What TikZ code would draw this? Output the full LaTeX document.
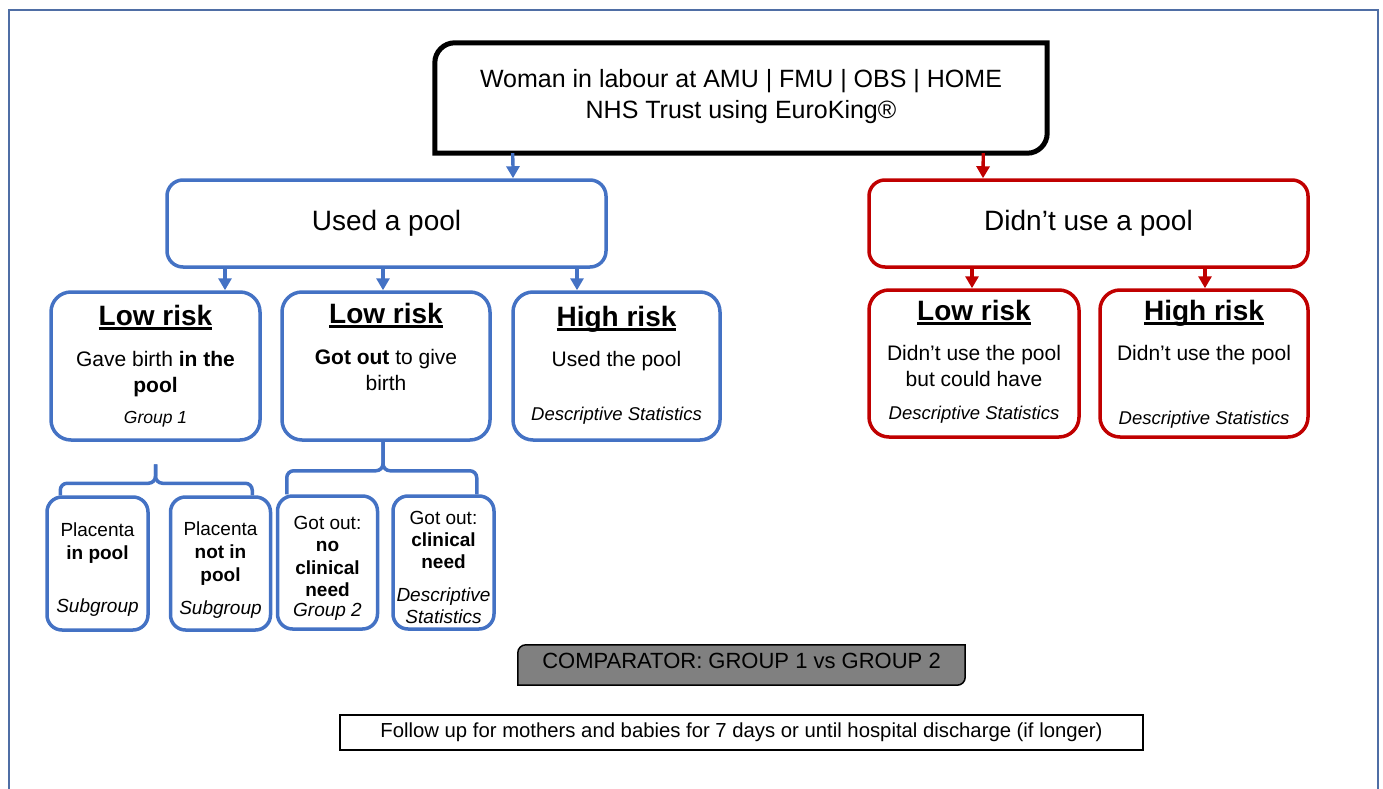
\documentclass[tikz,border=0pt]{standalone}
\usepackage{fontspec}
\setmainfont{Liberation Sans}
\usetikzlibrary{arrows.meta,backgrounds}

\definecolor{poolblue}{RGB}{68,114,196}
\definecolor{nopoolred}{RGB}{192,0,0}
\definecolor{framegrey}{RGB}{79,110,165}
\definecolor{compgrey}{RGB}{128,128,128}

% underlined bold heading of a risk box
\newcommand\risk[1]{{\fontsize{28}{30}\selectfont\bfseries\setbox0\hbox{#1}\rlap{\rule[-5pt]{\wd0}{3pt}}\box0}}

\begin{document}
\begin{tikzpicture}[x=1pt,y=1pt,
    box/.style={draw, rounded corners=20, line width=3.5pt, minimum width=208, minimum height=148,
      align=center, inner sep=2pt, font=\fontsize{21}{26}\selectfont},
    bluebox/.style={box, draw=poolblue},
    redbox/.style={box, draw=nopoolred},
    subbox/.style={draw=poolblue, rounded corners=15, line width=3.5pt, minimum width=100, minimum height=133,
      align=center, inner sep=2pt, font=\fontsize{19}{23}\selectfont},
    barrow/.style={poolblue, line width=3.3pt, -{Triangle[length=12pt,width=13pt]}},
    rarrow/.style={barrow, nopoolred},
    brk/.style={poolblue, line width=3.5pt, rounded corners=7}]
  \useasboundingbox (0,0) rectangle (1383,-789);
  \draw[framegrey, line width=1.5pt] (9,-10) rectangle (1378,-800);

  % top of the tree
  \node[align=center, minimum width=612, minimum height=110, inner sep=2pt, font=\fontsize{25}{31}\selectfont] (top) at (741,-98)
    {\rule{0pt}{20pt}Woman in labour at AMU | FMU | OBS | HOME\\NHS Trust using EuroKing®\rule[-9pt]{0pt}{0pt}};
  \draw[line width=5pt] ([yshift=-20]top.north west) arc[start angle=180, end angle=90, radius=20] -- (top.north east)
    -- ([yshift=20]top.south east) arc[start angle=0, end angle=-90, radius=20] -- (top.south west) -- cycle;

  \node[bluebox, rounded corners=16, minimum width=439, minimum height=87, font=\fontsize{28}{32}\selectfont] (used) at (386.5,-223.5) {Used a pool};
  \node[redbox, rounded corners=16, minimum width=439, minimum height=87, font=\fontsize{28}{32}\selectfont] (nopool) at (1088.5,-223.5) {Didn’t use a pool};

  % risk groups
  \node[bluebox, minimum width=209] (lowin) at (155.5,-366)
    {\rule{0pt}{22pt}\risk{Low risk}\\[15.5pt] Gave birth \textbf{in the}\\ \textbf{pool}\\[4.5pt]
     {\fontsize{17.5}{20}\selectfont\itshape Group 1}\rule[-6pt]{0pt}{0pt}};
  \node[bluebox] (lowout) at (386,-366)
    {\rule{0pt}{20.5pt}\risk{Low risk}\\[15.5pt] \textbf{Got out} to give\\ birth\rule[-39pt]{0pt}{0pt}};
  \node[bluebox, minimum width=207] (highin) at (616.5,-366)
    {\rule{0pt}{21pt}\risk{High risk}\\[14.5pt] Used the pool\\[28pt]
     {\fontsize{18.5}{20}\selectfont\itshape Descriptive Statistics}\rule[-6.5pt]{0pt}{0pt}};
  \node[redbox, minimum width=210, minimum height=147] (lowno) at (974,-363.5)
    {\rule{0pt}{21pt}\risk{Low risk}\\[14.5pt] Didn’t use the pool\\ but could have\\[7pt]
     {\fontsize{18.5}{20}\selectfont\itshape Descriptive Statistics}\rule[-8.5pt]{0pt}{0pt}};
  \node[redbox, minimum height=147] (highno) at (1204,-363.5)
    {\rule{0pt}{22pt}\risk{High risk}\\[14.5pt] Didn’t use the pool\\[38pt]
     {\fontsize{18.5}{20}\selectfont\itshape Descriptive Statistics}\rule[-4.5pt]{0pt}{0pt}};

  % subgroups
  \node[subbox, minimum width=101] (plin) at (97.5,-563.5)
    {\rule{0pt}{26pt}Placenta\\ \textbf{in pool}\\[30pt] \textit{Subgroup}\rule[-5pt]{0pt}{0pt}};
  \node[subbox] (plout) at (220.5,-563.5)
    {\rule{0pt}{27pt}Placenta\\ \textbf{not in}\\ \textbf{pool}\\[10pt] \textit{Subgroup}\rule[-5pt]{0pt}{0pt}};
  \node[subbox, font=\fontsize{19}{22.5}\selectfont] (noneed) at (327.5,-562.5)
    {\rule{0pt}{26pt}Got out:\\ \textbf{no}\\ \textbf{clinical}\\ \textbf{need}\\[-2.5pt] \textit{Group 2}\rule[-5pt]{0pt}{0pt}};
  \node[subbox, minimum width=101, font=\fontsize{19}{22}\selectfont] (need) at (443.5,-562.5)
    {\rule{0pt}{26pt}Got out:\\ \textbf{clinical}\\ \textbf{need}\\[11pt] \textit{Descriptive}\\ \textit{Statistics}\rule[-4pt]{0pt}{0pt}};

  % bottom notes
  \node[minimum width=447, minimum height=40, inner sep=2pt, font=\fontsize{22}{26}\selectfont] (comp) at (741.5,-665)
    {COMPARATOR: GROUP 1 vs GROUP 2\rule[-8pt]{0pt}{0pt}};
  \begin{scope}[on background layer]
    \filldraw[fill=compgrey, line width=1.5pt] ([yshift=-8]comp.north west) arc[start angle=180, end angle=90, radius=8]
      -- (comp.north east) -- ([yshift=8]comp.south east) arc[start angle=0, end angle=-90, radius=8] -- (comp.south west) -- cycle;
  \end{scope}
  \node[draw, line width=1.5pt, minimum width=803, minimum height=35, inner sep=2pt, font=\fontsize{20.3}{24}\selectfont] (follow) at (741.5,-732.5)
    {Follow up for mothers and babies for 7 days or until hospital discharge (if longer)};

  % arrows
  \draw[barrow] ([xshift=78]top.south west) -- ([xshift=126.5]used.north);
  \draw[rarrow] ([xshift=-64]top.south east) -- ([xshift=-105.5]nopool.north);
  \draw[barrow] ([xshift=-161.5]used.south) -- ([xshift=69.5]lowin.north);
  \draw[barrow] ([xshift=-3.5]used.south) -- ([xshift=-3]lowout.north);
  \draw[barrow] ([xshift=190.5]used.south) -- ([xshift=-39.5]highin.north);
  \draw[rarrow] ([xshift=-116.5]nopool.south) -- ([xshift=-2]lowno.north);
  \draw[rarrow] ([xshift=116.5]nopool.south) -- ([xshift=1]highno.north);

  % brackets
  \draw[brk] ([xshift=15]plin.north west) |- ([yshift=-41.5]lowin.south) -- ([yshift=-22.5]lowin.south);
  \draw[brk] ([xshift=-20]plout.north east) |- ([yshift=-41.5]lowin.south) -- ([yshift=-22.5]lowin.south);
  \draw[brk] ([xshift=11]noneed.north west) |- ([xshift=-3,yshift=-29]lowout.south) -- ([xshift=-3]lowout.south);
  \draw[brk] ([xshift=-19]need.north east) |- ([xshift=-3,yshift=-29]lowout.south) -- ([xshift=-3]lowout.south);
\end{tikzpicture}
\end{document}
